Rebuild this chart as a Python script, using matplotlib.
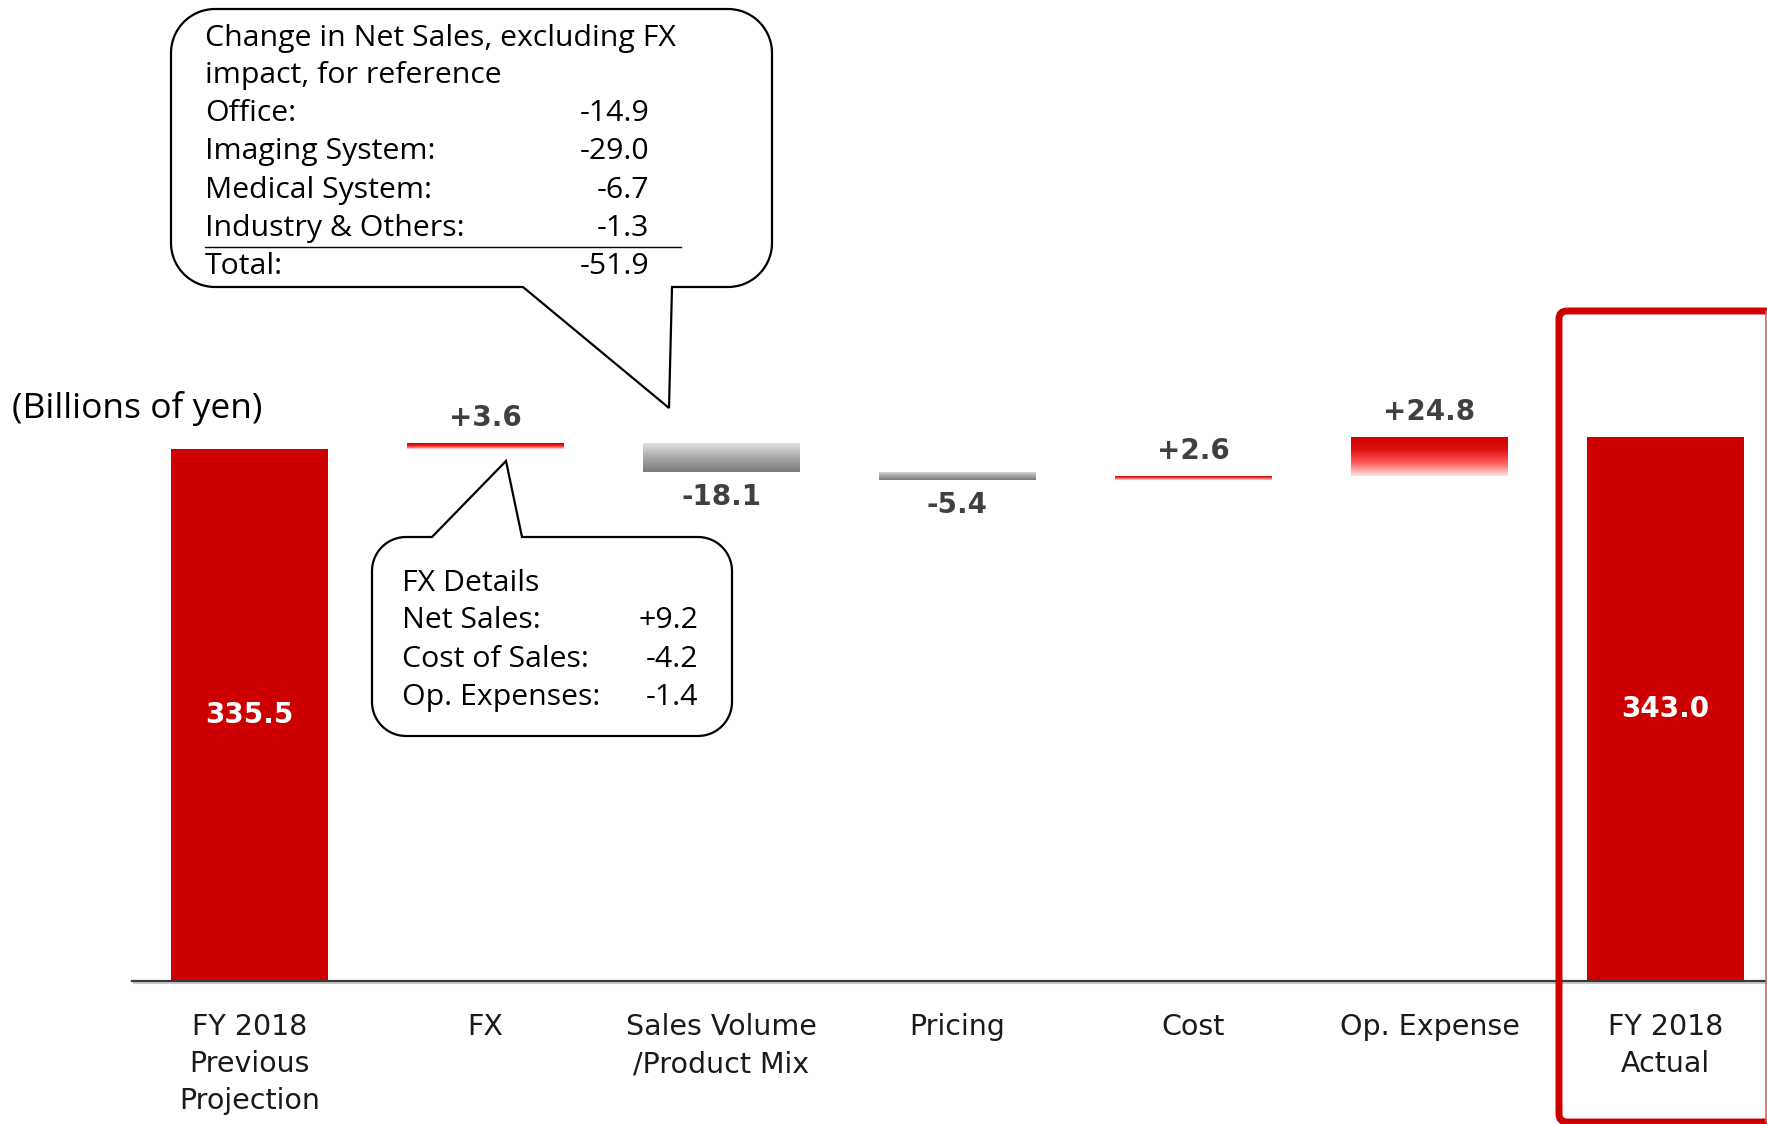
import numpy as np
import matplotlib
matplotlib.use("Agg")
import matplotlib.pyplot as plt
from matplotlib.colors import LinearSegmentedColormap
from matplotlib.patches import FancyBboxPatch, Polygon

# ---------------- data ----------------
categories = ["FY 2018\nPrevious\nProjection", "FX", "Sales Volume\n/Product Mix",
              "Pricing", "Cost", "Op. Expense", "FY 2018\nActual"]
start_value = 335.5
deltas = [3.6, -18.1, -5.4, 2.6, 24.8]
end_value = 343.0
unit_label = "(Billions of yen)"

sales_title = ["Change in Net Sales, excluding FX", "impact, for reference"]
sales_items = ["Office:", "Imaging System:", "Medical System:", "Industry & Others:"]
sales_values = ["-14.9", "-29.0", "-6.7", "-1.3"]
sales_total = ("Total:", "-51.9")

fx_title = "FX Details"
fx_items = ["Net Sales:", "Cost of Sales:", "Op. Expenses:"]
fx_values = ["+9.2", "-4.2", "-1.4"]

# ---------------- figure ----------------
W, H = 1767, 1124
fig = plt.figure(figsize=(W / 100, H / 100), dpi=100)
ax = fig.add_axes([0, 0, 1, 1])
ax.set_axis_off()

RED = "#cc0000"
LABEL = "#404040"
CAT = "#1a1a1a"
bw = 0.665

red_cmap = LinearSegmentedColormap.from_list("r", ["#ffe6e6", "#ff5a5a", "#e01010", "#cc0000"])
gray_cmap = LinearSegmentedColormap.from_list("g", ["#7a7a7a", "#a8a8a8", "#e2e2e2"])
grad = np.linspace(0, 1, 256).reshape(-1, 1)

n = len(categories)
x = np.arange(n)

# start / end totals
for xi, val in [(x[0], start_value), (x[-1], end_value)]:
    ax.bar(xi, val, width=bw, color=RED, zorder=2)
    ax.text(xi, val / 2, f"{val:.1f}", ha="center", va="center", color="white",
            fontsize=20, fontweight="bold", family="DejaVu Sans", zorder=3)

# deltas
level = start_value
for i, d in enumerate(deltas):
    xi = x[i + 1]
    bottom = level if d >= 0 else level + d
    top = level + d if d >= 0 else level
    bar = ax.bar(xi, abs(d), bottom=bottom, width=bw, color="none", zorder=2)[0]
    cmap = red_cmap if d >= 0 else gray_cmap
    im = ax.imshow(grad, cmap=cmap, aspect="auto", origin="lower",
                   extent=(xi - bw / 2, xi + bw / 2, bottom, top), zorder=2,
                   interpolation="bilinear")
    im.set_clip_path(bar)
    if d >= 0:
        ax.annotate(f"+{d:.1f}", xy=(xi, top), xytext=(0, 18), textcoords="offset points",
                    ha="center", va="center", fontsize=20, fontweight="bold",
                    color=LABEL, family="DejaVu Sans")
    else:
        ax.annotate(f"{d:.1f}", xy=(xi, bottom), xytext=(0, -18), textcoords="offset points",
                    ha="center", va="center", fontsize=20, fontweight="bold",
                    color=LABEL, family="DejaVu Sans")
    level += d

# category labels
for xi, c in zip(x, categories):
    ax.annotate(c, xy=(xi, 0), xytext=(0, -23), textcoords="offset points",
                ha="center", va="top", fontsize=20.5, color=CAT,
                family="DejaVu Sans", linespacing=1.42)

# scale: 1.586 px per unit, baseline at pixel row 981, first centre at px 249.5, spacing 236 px
px_per_unit = 1.586
ax.set_ylim(-(H - 981) / px_per_unit, 981 / px_per_unit)
ax.set_xlim(-249.5 / 236, (W - 249.5) / 236)

# baseline
ax.axhline(-1.2, xmin=134 / W, xmax=1, color="#c8c8c8", lw=1.5, zorder=1)
ax.axhline(0, xmin=132 / W, xmax=1, color="#3a3a3a", lw=1.6, zorder=4)

# ---------------- overlay in pixel coordinates ----------------
ov = fig.add_axes([0, 0, 1, 1])
ov.set_xlim(0, W)
ov.set_ylim(H, 0)
ov.set_axis_off()
ov.patch.set_alpha(0)

ov.text(12, 418, unit_label, ha="left", va="baseline", fontsize=25.5,
        family="Open Sans", color="black")


def callout(x0, y0, x1, y1, r, side, a, b, tip):
    pts = []
    def arc(cx, cy, t0, t1):
        for t in np.linspace(np.radians(t0), np.radians(t1), 20):
            pts.append((cx + r * np.cos(t), cy + r * np.sin(t)))
    pts.append((x0 + r, y0))
    if side == "top":
        pts += [(a, y0), tip, (b, y0)]
    pts.append((x1 - r, y0))
    arc(x1 - r, y0 + r, -90, 0)
    arc(x1 - r, y1 - r, 0, 90)
    if side == "bottom":
        pts += [(b, y1), tip, (a, y1)]
    arc(x0 + r, y1 - r, 90, 180)
    arc(x0 + r, y0 + r, 180, 270)
    ov.add_patch(Polygon(pts, closed=True, facecolor="white", edgecolor="black",
                         lw=1.6, zorder=5, joinstyle="miter"))


# big callout
callout(171, 9, 772, 287, 44, "bottom", 523, 672, (669, 408))
fs = 21.8
ys = [46, 83]
for t, yy in zip(sales_title, ys):
    ov.text(205, yy, t, ha="left", va="baseline", fontsize=fs, family="Open Sans", zorder=6)
rows = [121, 159, 198, 236]
for lab, val, yy in zip(sales_items, sales_values, rows):
    ov.text(205, yy, lab, ha="left", va="baseline", fontsize=fs, family="Open Sans", zorder=6)
    ov.text(649, yy, val, ha="right", va="baseline", fontsize=fs, family="Open Sans", zorder=6)
ov.plot([205, 681], [247, 247], color="black", lw=1.0, zorder=6)
ov.text(205, 274, sales_total[0], ha="left", va="baseline", fontsize=fs, family="Open Sans", zorder=6)
ov.text(649, 274, sales_total[1], ha="right", va="baseline", fontsize=fs, family="Open Sans", zorder=6)

# FX callout
callout(372, 537, 732, 736, 34, "top", 432, 522, (506, 461))
ov.text(402, 591, fx_title, ha="left", va="baseline", fontsize=fs, family="Open Sans", zorder=6)
for lab, val, yy in zip(fx_items, fx_values, [628, 667, 705]):
    ov.text(402, yy, lab, ha="left", va="baseline", fontsize=fs, family="Open Sans", zorder=6)
    ov.text(698, yy, val, ha="right", va="baseline", fontsize=fs, family="Open Sans", zorder=6)

# highlight frame around the actual bar (extends past the right edge)
ov.add_patch(FancyBboxPatch((1559, 311), 230, 811,
                            boxstyle="round,pad=0,rounding_size=8",
                            facecolor="none", edgecolor=RED, lw=5, zorder=7))
ov.plot([1766.2, 1766.2], [311, 1122], color="#e06060", lw=1.2, zorder=7)

fig.savefig("out.png", dpi=100)
